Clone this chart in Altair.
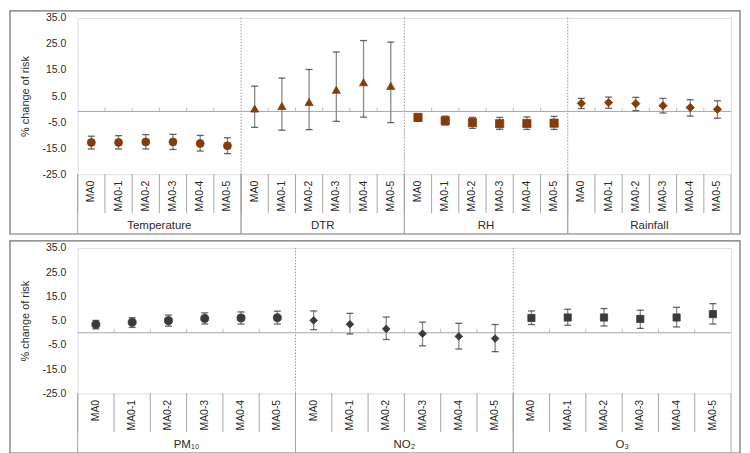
import altair as alt
import pandas as pd

lags = ["MA0", "MA0-1", "MA0-2", "MA0-3", "MA0-4", "MA0-5"]

# ---- top panel: meteorological factors ----
top_groups = ["Temperature", "DTR", "RH", "Rainfall"]
top_shapes = ["circle", "triangle-up", "square", "diamond"]
top_sizes = [64, 70, 50, 56]
temp_est = [-12.8, -12.8, -12.6, -12.6, -13.2, -14.1]
temp_lo = [-15.3, -15.3, -15.3, -15.5, -16.1, -17.1]
temp_hi = [-10.4, -10.2, -9.8, -9.7, -10.1, -11.0]
dtr_est = [0.2, 1.2, 2.7, 7.4, 10.3, 8.9]
dtr_lo = [-7.0, -8.1, -7.9, -4.7, -3.1, -5.2]
dtr_hi = [8.8, 11.9, 15.2, 21.9, 26.3, 25.7]
rh_est = [-3.2, -4.5, -5.2, -5.6, -5.5, -5.4]
rh_lo = [-4.7, -6.1, -7.4, -7.8, -7.8, -7.8]
rh_hi = [-1.8, -2.7, -3.2, -3.2, -3.0, -2.8]
rain_est = [2.2, 2.5, 2.1, 1.3, 0.6, -0.1]
rain_lo = [0.2, 0.3, -0.6, -1.5, -2.7, -3.5]
rain_hi = [4.1, 4.6, 4.5, 4.1, 3.6, 3.2]

# ---- bottom panel: air pollutants ----
bottom_groups = ["PM\u2081\u2080", "NO\u2082", "O\u2083"]
bottom_shapes = ["circle", "diamond", "square"]
bottom_sizes = [66, 52, 54]
pm_est = [3.4, 4.3, 5.0, 5.9, 6.1, 6.2]
pm_lo = [1.6, 2.2, 2.7, 3.6, 3.6, 3.6]
pm_hi = [5.1, 6.2, 7.3, 8.2, 8.6, 8.9]
no2_est = [5.1, 3.5, 1.6, -0.4, -1.5, -2.4]
no2_lo = [1.3, -0.5, -2.8, -5.4, -6.7, -7.8]
no2_hi = [9.0, 8.0, 6.5, 4.4, 3.9, 3.4]
o3_est = [6.1, 6.3, 6.3, 5.7, 6.3, 7.7]
o3_lo = [3.4, 3.1, 2.8, 1.8, 2.4, 3.6]
o3_hi = [9.0, 9.7, 10.0, 9.3, 10.5, 12.0]

y_ticks = [-25, -15, -5, 5, 15, 25, 35]
y_domain = [-25, 35]

FONT = "Liberation Sans"
TXT = "#2b2b2b"
GRID = "#a6a6a6"


def panel(groups, shapes, sizes, series, color, W, H, zero_y):
    rows = []
    for g, (est, lo, hi) in zip(groups, series):
        for i, lag in enumerate(lags):
            rows.append(dict(group=g, lag=lag, key=g + "|" + lag,
                             est=est[i], lo=lo[i], hi=hi[i]))
    df = pd.DataFrame(rows)
    keys = list(df["key"])
    xs = alt.Scale(domain=keys, paddingInner=0, paddingOuter=0)
    ys = alt.Scale(domain=y_domain, nice=False, zero=False)
    ytitle = "% change of risk"

    x_axis = alt.Axis(title=None, labelExpr="split(datum.label, '|')[1]",
                      labelAngle=270, labelFont=FONT, labelFontSize=10.5,
                      labelColor=TXT, labelPadding=6, ticks=False,
                      domain=False, grid=False, labelOverlap=False)
    y_axis = alt.Axis(title=ytitle, values=y_ticks,
                      labelExpr="(datum.value < 0 ? '-' : '') + format(abs(datum.value), '.1f')",
                      grid=False, ticks=False, domain=False, labelOverlap=False,
                      labelFont=FONT, labelFontSize=10.5, labelColor=TXT,
                      labelPadding=12, titleFont=FONT, titleFontSize=11,
                      titleFontWeight="normal", titleColor=TXT, titlePadding=11)

    def X(band=None):
        if band is None:
            return alt.X("key:N", scale=xs, axis=x_axis, title=None)
        return alt.X("key:N", scale=xs, axis=x_axis, title=None, bandPosition=band)

    def Y(field):
        return alt.Y(field, scale=ys, axis=y_axis, title=ytitle)

    base = alt.Chart(df)

    frame = alt.Chart(pd.DataFrame({"f": [0]})).mark_rect(
        fillOpacity=0, stroke="#707070", strokeWidth=1.2
    ).encode(x=alt.value(-68), x2=alt.value(W + 9),
             y=alt.value(-7), y2=alt.value(H + 60))

    first = df[df["lag"] == lags[0]]
    last = df[df["lag"] == lags[-1]]
    mid = df[df["lag"] == lags[3]]
    inner = first[first["group"] != groups[0]]

    cat_div = base.mark_rule(color=GRID, strokeWidth=1).encode(
        x=X(0), y=alt.value(H), y2=alt.value(H + 39))
    grp_div_a = alt.Chart(first).mark_rule(color=GRID, strokeWidth=1).encode(
        x=X(0), y=alt.value(H), y2=alt.value(H + 60))
    grp_div_b = alt.Chart(last).mark_rule(color=GRID, strokeWidth=1).encode(
        x=X(1), y=alt.value(H), y2=alt.value(H + 60))
    grp_dot = alt.Chart(inner).mark_rule(color="#9a9a9a", strokeWidth=1,
                                         strokeDash=[1.5, 1.5]).encode(
        x=X(0), y=alt.value(0), y2=alt.value(H))

    zero = alt.Chart(pd.DataFrame({"z": [zero_y]})).mark_rule(
        color=GRID, strokeWidth=1).encode(y=Y("z:Q"))

    minor = alt.Chart(df[df["lag"] != lags[0]].assign(z=zero_y)).mark_tick(
        orient="vertical", size=4, thickness=1, color=GRID, yOffset=-2
    ).encode(x=X(0), y=Y("z:Q"))

    err = base.mark_rule(color="#8a8a8a", strokeWidth=1.3).encode(
        x=X(), y=Y("lo:Q"), y2=alt.Y2("hi:Q", title=ytitle))
    cap_lo = base.mark_tick(orient="horizontal", size=7, thickness=1.3,
                            color="#262626").encode(x=X(), y=Y("lo:Q"))
    cap_hi = base.mark_tick(orient="horizontal", size=7, thickness=1.3,
                            color="#262626").encode(x=X(), y=Y("hi:Q"))

    pts = base.mark_point(filled=True, opacity=1, color=color,
                          stroke=color, strokeWidth=0.8).encode(
        x=X(), y=Y("est:Q"),
        shape=alt.Shape("group:N", scale=alt.Scale(domain=groups, range=shapes), legend=None),
        size=alt.Size("group:N", scale=alt.Scale(domain=groups, range=sizes), legend=None),
    )

    glabels = alt.Chart(mid).mark_text(font=FONT, fontSize=11.5, color=TXT,
                                       baseline="middle").encode(
        x=X(0), y=alt.value(H + 52), text="group:N")

    return alt.layer(frame, cat_div, grp_div_a, grp_div_b, grp_dot, zero,
                     minor, err, cap_lo, cap_hi, pts, glabels).properties(
        width=W, height=H)


top = panel(top_groups, top_shapes, top_sizes,
            [(temp_est, temp_lo, temp_hi), (dtr_est, dtr_lo, dtr_hi),
             (rh_est, rh_lo, rh_hi), (rain_est, rain_lo, rain_hi)],
            "#843C0C", 656, 157, -0.9)
bottom = panel(bottom_groups, bottom_shapes, bottom_sizes,
               [(pm_est, pm_lo, pm_hi), (no2_est, no2_lo, no2_hi),
                (o3_est, o3_lo, o3_hi)],
               "#3a3a3a", 656, 146, 0)

chart = alt.vconcat(top, bottom, spacing=3).resolve_scale(
    shape="independent", size="independent", x="independent", y="independent"
).properties(padding=0).configure_view(
    stroke="#b3b3b3", strokeWidth=1
).configure(background="white")

chart.save("out.html", embed_options={"renderer": "svg", "actions": False})
